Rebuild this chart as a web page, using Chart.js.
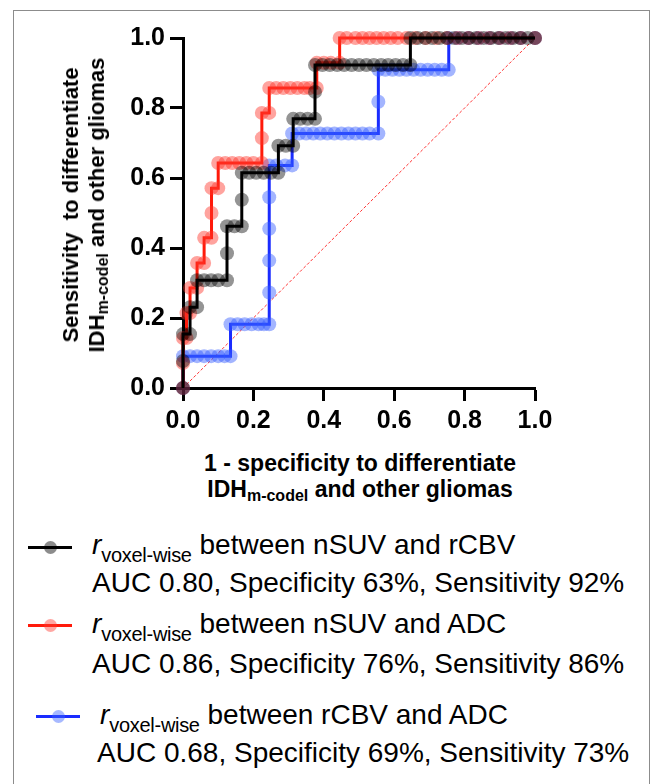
<!DOCTYPE html>
<html>
<head>
<meta charset="utf-8">
<script src="https://cdn.jsdelivr.net/npm/chart.js@4.4.1/dist/chart.umd.min.js"></script>
<style>
  body { margin: 0; background: #fff; font-family: "Liberation Sans", Arial, sans-serif; color: #000; }
  #wrap { position: relative; width: 652px; height: 784px; overflow: hidden; }
  #frame { position: absolute; left: 13px; top: 10px; width: 635px; height: 820px; border: 1.5px solid #8c8c8c; }
  #roc { position: absolute; left: 0; top: 0; }
  .ytitle { position: absolute; left: 85px; top: 205px; transform: translate(-50%, -50%) rotate(-90deg);
            font-weight: bold; font-size: 22px; line-height: 26px; text-align: center; white-space: nowrap; }
  .xtitle { position: absolute; left: 360px; top: 477px; transform: translate(-50%, -50%);
            font-weight: bold; font-size: 23px; line-height: 26px; text-align: center; white-space: nowrap; }
  .ax sub { font-size: 16px; position: relative; top: 4px; vertical-align: baseline; }
  .leg { position: absolute; font-size: 28px; line-height: 36px; white-space: nowrap; }
  .leg i { font-style: italic; }
  .leg sub { font-size: 20px; letter-spacing: -0.3px; position: relative; top: 8px; vertical-align: baseline; }
  .sym { position: absolute; width: 44px; height: 3px; }
  .sym span { position: absolute; left: 16px; top: -5px; width: 13px; height: 13px; border-radius: 50%; }
</style>
</head>
<body>
<div id="wrap">
  <div id="frame"></div>
  <canvas id="roc" width="652" height="440"></canvas>
  <div class="ytitle ax">Sensitivity&nbsp; to differentiate<br>IDH<sub>m-codel</sub> and other gliomas</div>
  <div class="xtitle ax">1 - specificity to differentiate<br>IDH<sub>m-codel</sub> and other gliomas</div>

  <div class="sym" style="left:28px;top:546px;background:#000"><span style="background:rgba(0,0,0,0.45)"></span></div>
  <div class="leg" style="left:92px;top:527px"><i>r</i><sub>voxel-wise</sub> between nSUV and rCBV</div>
  <div class="leg" style="left:92px;top:565px">AUC 0.80, Specificity 63%, Sensitivity 92%</div>

  <div class="sym" style="left:28px;top:624px;background:#ff1a0a"><span style="background:rgba(255,60,50,0.45)"></span></div>
  <div class="leg" style="left:92px;top:606px"><i>r</i><sub>voxel-wise</sub> between nSUV and ADC</div>
  <div class="leg" style="left:92px;top:646px">AUC 0.86, Specificity 76%, Sensitivity 86%</div>

  <div class="sym" style="left:36px;top:715px;background:#1a2cff"><span style="background:rgba(60,100,255,0.45)"></span></div>
  <div class="leg" style="left:100px;top:697px"><i>r</i><sub>voxel-wise</sub> between rCBV and ADC</div>
  <div class="leg" style="left:97px;top:735px">AUC 0.68, Specificity 69%, Sensitivity 73%</div>
</div>

<script>
// ROC points: [1 - specificity, sensitivity]
const blackPts = [
  [0, 0], [0, 0.077], [0, 0.154], [0.02, 0.154], [0.02, 0.231], [0.04, 0.231], [0.04, 0.308],
  [0.06, 0.308], [0.08, 0.308], [0.10, 0.308], [0.125, 0.308], [0.125, 0.385], [0.125, 0.462],
  [0.146, 0.462], [0.167, 0.462], [0.167, 0.538], [0.167, 0.615], [0.188, 0.615], [0.208, 0.615],
  [0.229, 0.615], [0.25, 0.615], [0.271, 0.615], [0.271, 0.692], [0.292, 0.692], [0.313, 0.692],
  [0.313, 0.769], [0.333, 0.769], [0.354, 0.769], [0.375, 0.769], [0.375, 0.846], [0.375, 0.923],
  [0.396, 0.923], [0.417, 0.923], [0.438, 0.923], [0.458, 0.923], [0.479, 0.923], [0.5, 0.923],
  [0.521, 0.923], [0.542, 0.923], [0.563, 0.923], [0.583, 0.923], [0.604, 0.923], [0.625, 0.923],
  [0.646, 0.923], [0.646, 1], [0.667, 1], [0.688, 1], [0.708, 1], [0.729, 1], [0.75, 1], [0.771, 1],
  [0.792, 1], [0.813, 1], [0.833, 1], [0.854, 1], [0.875, 1], [0.896, 1], [0.917, 1], [0.938, 1],
  [0.958, 1], [0.979, 1], [1, 1]
];
const redPts = [
  [0, 0], [0, 0.071], [0, 0.143], [0.01, 0.143], [0.01, 0.214], [0.02, 0.214], [0.02, 0.286],
  [0.04, 0.286], [0.04, 0.357], [0.06, 0.357], [0.06, 0.429], [0.081, 0.429], [0.081, 0.5],
  [0.081, 0.571], [0.1, 0.571], [0.1, 0.643], [0.12, 0.643], [0.14, 0.643], [0.16, 0.643],
  [0.18, 0.643], [0.2, 0.643], [0.224, 0.643], [0.224, 0.714], [0.224, 0.786], [0.245, 0.786],
  [0.245, 0.857], [0.265, 0.857], [0.285, 0.857], [0.305, 0.857], [0.325, 0.857], [0.345, 0.857],
  [0.36, 0.857], [0.38, 0.857], [0.38, 0.929], [0.4, 0.929], [0.42, 0.929], [0.445, 0.929],
  [0.445, 1], [0.465, 1], [0.49, 1], [0.51, 1], [0.53, 1], [0.55, 1], [0.57, 1], [0.59, 1],
  [0.61, 1], [0.635, 1], [0.66, 1], [0.69, 1], [0.72, 1], [0.75, 1], [0.78, 1], [0.81, 1],
  [0.84, 1], [0.87, 1], [0.9, 1], [0.93, 1], [0.96, 1], [1, 1]
];
const bluePts = [
  [0, 0], [0, 0.091], [0.02, 0.091], [0.04, 0.091], [0.06, 0.091], [0.08, 0.091], [0.1, 0.091],
  [0.118, 0.091], [0.135, 0.091], [0.135, 0.182], [0.155, 0.182], [0.175, 0.182], [0.195, 0.182],
  [0.215, 0.182], [0.23, 0.182], [0.245, 0.182], [0.245, 0.273], [0.245, 0.364], [0.245, 0.455],
  [0.245, 0.545], [0.245, 0.636], [0.265, 0.636], [0.29, 0.636], [0.31, 0.636], [0.31, 0.727],
  [0.33, 0.727], [0.35, 0.727], [0.37, 0.727], [0.39, 0.727], [0.41, 0.727], [0.43, 0.727],
  [0.45, 0.727], [0.47, 0.727], [0.49, 0.727], [0.51, 0.727], [0.53, 0.727], [0.555, 0.727],
  [0.555, 0.818], [0.555, 0.909], [0.575, 0.909], [0.595, 0.909], [0.615, 0.909], [0.635, 0.909],
  [0.655, 0.909], [0.675, 0.909], [0.695, 0.909], [0.715, 0.909], [0.735, 0.909], [0.755, 0.909],
  [0.755, 1], [0.78, 1], [0.81, 1], [0.84, 1], [0.87, 1], [0.9, 1], [0.93, 1], [0.96, 1], [1, 1]
];
const chancePts = [[0, 0], [1, 1]];
const tickValues = [0, 0.2, 0.4, 0.6, 0.8, 1.0];

Chart.defaults.font.family = '"Liberation Sans", Arial, sans-serif';

function curve(pts, line, dot, order) {
  return {
    data: pts.map(p => ({ x: p[0], y: p[1] })),
    showLine: true,
    borderColor: line,
    borderWidth: 3,
    pointRadius: 7,
    pointBorderWidth: 0,
    pointBackgroundColor: dot,
    tension: 0,
    clip: false,
    order: order
  };
}

function axis(size) {
  return {
    type: "linear",
    min: 0,
    max: 1,
    afterBuildTicks: s => { s.ticks = tickValues.map(v => ({ value: v })); },
    afterFit: size,
    ticks: {
      callback: v => v.toFixed(1),
      color: "#000",
      font: { size: 25, weight: "bold" },
      padding: 5
    },
    grid: { drawOnChartArea: false, tickLength: 13, tickWidth: 3, tickColor: "#000" },
    border: { color: "#000", width: 3 }
  };
}

new Chart(document.getElementById("roc"), {
  type: "scatter",
  data: {
    datasets: [
      curve(blackPts, "#000000", "rgba(0,0,0,0.42)", 1),
      curve(redPts, "#ff1a0a", "rgba(255,50,40,0.45)", 2),
      curve(bluePts, "#1a2cff", "rgba(50,90,255,0.45)", 3),
      {
        data: chancePts.map(p => ({ x: p[0], y: p[1] })),
        showLine: true,
        borderColor: "rgba(255,40,40,0.95)",
        borderWidth: 1,
        borderDash: [3, 2],
        pointRadius: 0,
        order: 4
      }
    ]
  },
  options: {
    responsive: false,
    animation: false,
    layout: { padding: { top: 38, right: 117, left: 0, bottom: 0 } },
    plugins: { legend: { display: false }, tooltip: { enabled: false } },
    scales: {
      x: axis(s => { s.height = 52; }),
      y: axis(s => { s.width = 183; })
    }
  }
});
</script>
</body>
</html>
